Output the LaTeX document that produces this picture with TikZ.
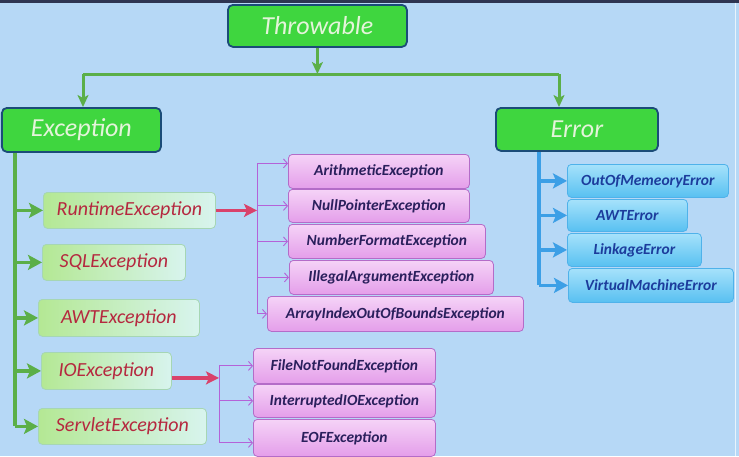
\documentclass[tikz,border=0pt]{standalone}
\usepackage{fontspec}
\setmainfont{Carlito}
\usetikzlibrary{arrows.meta,positioning,calc}

\definecolor{slidebg}{HTML}{B6D8F6}
\definecolor{slideedge}{HTML}{2E3552}
\definecolor{rootgreen}{HTML}{3FD63F}
\definecolor{rootedge}{HTML}{1B4C78}
\definecolor{roottext}{HTML}{E4F4DA}
\definecolor{treegreen}{HTML}{5BAF48}
\definecolor{subleft}{HTML}{B4E894}
\definecolor{subright}{HTML}{D8F4EE}
\definecolor{subedge}{HTML}{A6D6B4}
\definecolor{excred}{HTML}{B5283F}
\definecolor{forkred}{HTML}{D9426B}
\definecolor{lilactop}{HTML}{F5D3F7}
\definecolor{lilacbot}{HTML}{E49EEA}
\definecolor{lilacedge}{HTML}{B46CC8}
\definecolor{lilactext}{HTML}{2A1F5C}
\definecolor{forkpurple}{HTML}{B462D8}
\definecolor{skytop}{HTML}{A6E2FB}
\definecolor{skybot}{HTML}{58C0F1}
\definecolor{skyedge}{HTML}{4FB2EA}
\definecolor{skytext}{HTML}{1C3C9C}
\definecolor{treeblue}{HTML}{3C9FE6}

\tikzset{
  rootbox/.style 2 args={draw=rootedge, line width=1.8pt, rounded corners=5pt,
    fill=rootgreen, text=roottext, anchor=north west, inner sep=0pt,
    minimum width=#1, minimum height=#2,
    font=\itshape\fontsize{26}{26}\selectfont},
  subbox/.style 2 args={draw=subedge, line width=0.8pt, rounded corners=4pt,
    left color=subleft, right color=subright, text=excred, anchor=north west,
    inner sep=0pt, minimum width=#1, minimum height=#2,
    font=\itshape\fontsize{20}{20}\selectfont},
  lilacbox/.style 2 args={draw=lilacedge, line width=0.8pt, rounded corners=4pt,
    top color=lilactop, bottom color=lilacbot, text=lilactext, anchor=north west,
    inner sep=0pt, minimum width=#1, minimum height=#2,
    font=\bfseries\itshape\fontsize{15.5}{15.5}\selectfont},
  skybox/.style 2 args={draw=skyedge, line width=0.8pt, rounded corners=4pt,
    top color=skytop, bottom color=skybot, text=skytext, anchor=north west,
    inner sep=0pt, minimum width=#1, minimum height=#2,
    font=\bfseries\itshape\fontsize{15.5}{15.5}\selectfont},
  topline/.style={draw=treegreen, line width=3pt},
  toparrow/.style={topline, -{Stealth[length=12pt,width=11pt,inset=3pt]}},
  greenline/.style={draw=treegreen, line width=3.5pt},
  greenarrow/.style={greenline, -{Stealth[length=14pt,width=15pt,inset=3pt]}},
  redarrow/.style={draw=forkred, line width=3.2pt, -{Stealth[length=13pt,width=13pt,inset=3pt]}},
  purpleline/.style={draw=forkpurple, line width=0.9pt},
  purplearrow/.style={purpleline, -{Straight Barb[length=4pt,width=9pt]}},
  blueline/.style={draw=treeblue, line width=3.5pt},
  bluearrow/.style={blueline, -{Stealth[length=14pt,width=15pt,inset=3pt]}},
}

\begin{document}
\begin{tikzpicture}[x=1pt, y=-1pt]
    % slide background
    \useasboundingbox (0,0) rectangle (739,456);
    \fill[slidebg] (0,0) rectangle (739,456);
    \fill[slideedge] (0,0) rectangle (739,2.5);
    \draw[white!70!slidebg, line width=1pt] (735.5,2.5) -- (735.5,456);

    % top level
    \node[rootbox={179pt}{42pt}] (thr) at (227,4) {Throwable};
    \node[rootbox={159pt}{44pt}] (exc) at (1,107) {Exception};
    \node[rootbox={162pt}{43pt}] (err) at (495,107) {Error};

    % exceptions
    \node[subbox={172pt}{36pt}] (rt)  at (43,192) {RuntimeException};
    \node[subbox={143pt}{36pt}] (sql) at (42,244) {SQLException};
    \node[subbox={161pt}{37pt}] (awt) at (38,299) {AWTException};
    \node[subbox={130pt}{37pt}] (io)  at (41,352) {IOException};
    \node[subbox={168pt}{36pt}] (sv)  at (38,408) {ServletException};

    % runtime exceptions
    \node[lilacbox={181pt}{34pt}] (ae) at (288,154) {ArithmeticException};
    \node[lilacbox={181pt}{33pt}] (np) at (288,189) {NullPointerException};
    \node[lilacbox={197pt}{34pt}] (nf) at (288,224) {NumberFormatException};
    \node[lilacbox={204pt}{34pt}] (ia) at (289,260) {IllegalArgumentException};
    \node[lilacbox={256pt}{35pt}] (ai) at (267,296) {ArrayIndexOutOfBoundsException};

    % io exceptions
    \node[lilacbox={182pt}{35pt}] (fnf) at (253,348) {FileNotFoundException};
    \node[lilacbox={182pt}{33pt}] (iio) at (253,384) {InterruptedIOException};
    \node[lilacbox={182pt}{37pt}] (eof) at (253,419) {EOFException};

    % errors
    \node[skybox={161pt}{33pt}] (oom)  at (567,164) {OutOfMemeoryError};
    \node[skybox={120pt}{32pt}] (awte) at (567,199) {AWTError};
    \node[skybox={134pt}{33pt}] (lnk)  at (567,233) {LinkageError};
    \node[skybox={165pt}{34pt}] (vm)   at (568,268) {VirtualMachineError};

    % Throwable -> Exception, Error
    \coordinate (barL) at (83,74);
    \coordinate (barR) at (559,74);
    \draw[toparrow] (thr.south) -- (thr.south |- barL);
    \draw[topline] (barL) -- (barR);
    \draw[toparrow] (barL) -- (barL |- exc.north);
    \draw[toparrow] (barR) -- (barR |- err.north);

    % Exception trunk
    \coordinate (etrunk) at (15,0);
    \draw[greenline] (etrunk |- exc.south) -- (etrunk |- sv.west);
    \foreach \n in {rt,sql,awt,io,sv}
        \draw[greenarrow] (etrunk |- \n.west) -- (\n.west);

    % Error trunk
    \coordinate (rtrunk) at (539,0);
    \draw[blueline] (rtrunk |- err.south) -- (rtrunk |- vm.west);
    \foreach \n in {oom,awte,lnk,vm}
        \draw[bluearrow] (rtrunk |- \n.west) -- (\n.west);

    % RuntimeException fork
    \coordinate (rtbus) at (257,0);
    \coordinate (aeIn) at ($(ae.west)+(0,-8)$);
    \draw[redarrow] (rt.east) -- (rtbus |- rt.east);
    \draw[purpleline] (rtbus |- aeIn) -- (rtbus |- ai.west);
    \draw[purplearrow] (rtbus |- aeIn) -- (aeIn);
    \foreach \n in {np,nf,ia,ai}
        \draw[purplearrow] (rtbus |- \n.west) -- (\n.west);

    % IOException fork
    \coordinate (iobus) at (219,0);
    \coordinate (ioOut) at ($(io.east)+(0,7)$);
    \coordinate (eofIn) at ($(eof.west)+(0,5)$);
    \draw[redarrow] (ioOut) -- (iobus |- ioOut);
    \draw[purpleline] (iobus |- fnf.west) -- (iobus |- eofIn);
    \foreach \n in {fnf,iio}
        \draw[purplearrow] (iobus |- \n.west) -- (\n.west);
    \draw[purplearrow] (iobus |- eofIn) -- (eofIn);
\end{tikzpicture}
\end{document}
